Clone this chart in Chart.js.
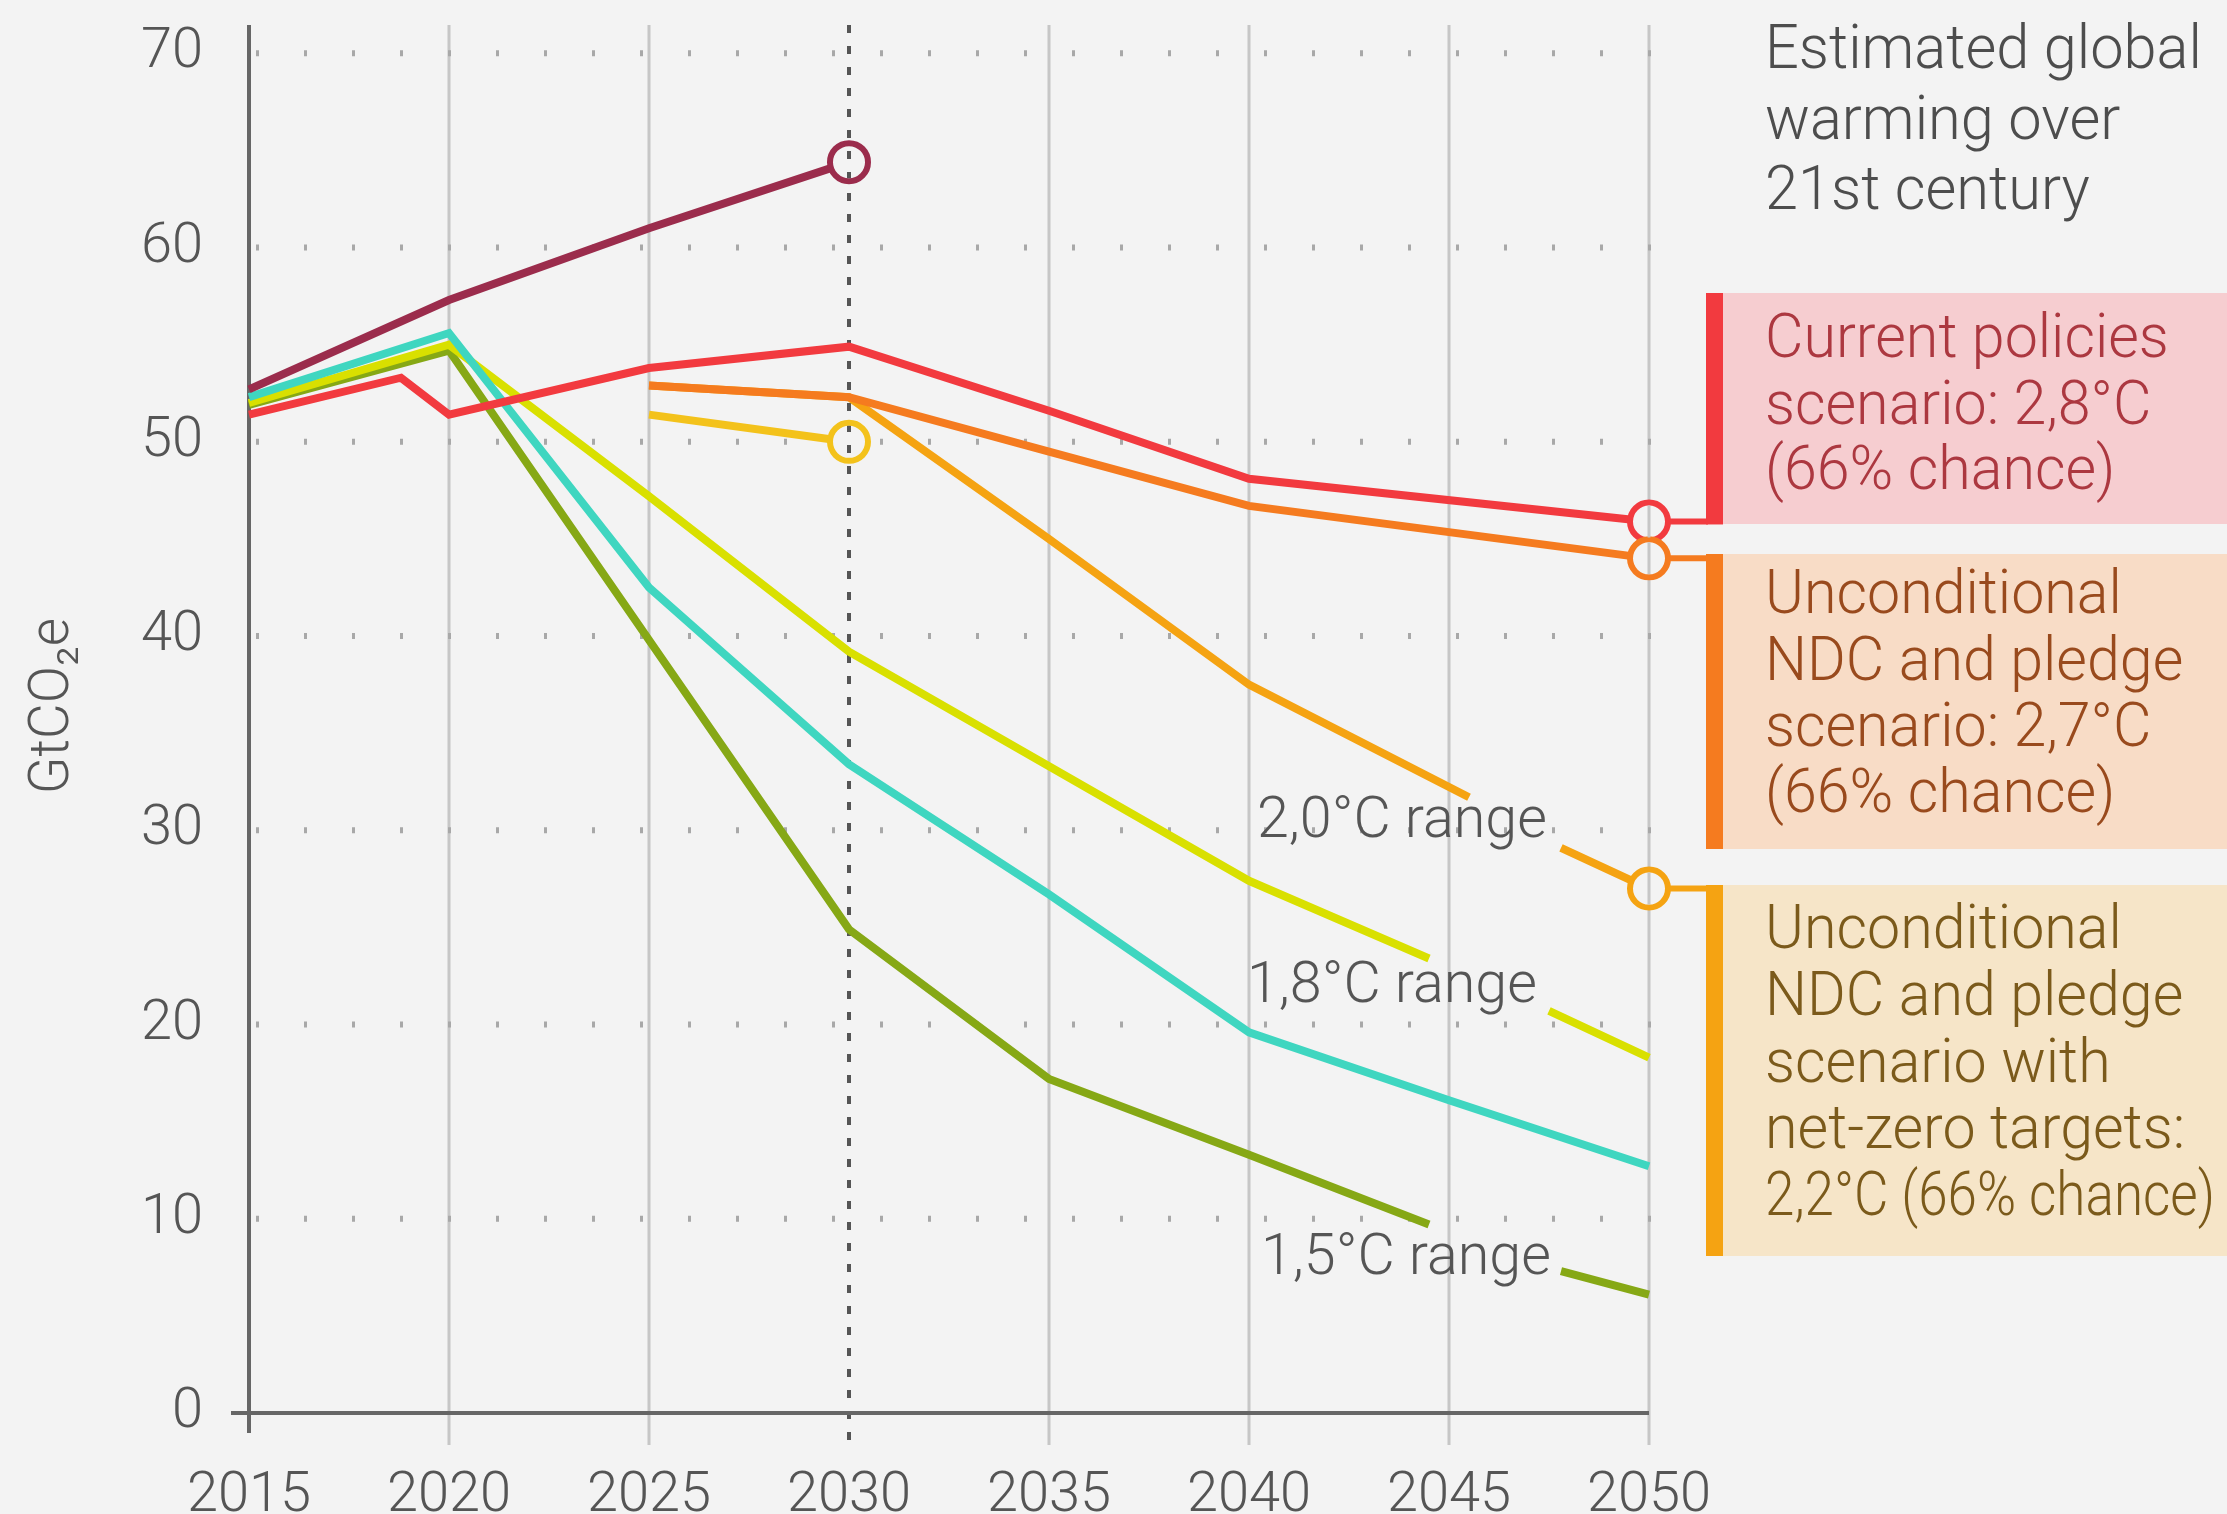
<!DOCTYPE html>
<html>
<head>
<meta charset="utf-8">
<script src="https://cdn.jsdelivr.net/npm/chart.js@4.4.1/dist/chart.umd.min.js"></script>
<style>
  html, body { margin: 0; padding: 0; background: #f3f3f3; }
  #wrap { width: 2227px; height: 1514px; }
</style>
</head>
<body>
<div id="wrap"><canvas id="emissionsChart" width="2227" height="1514"></canvas></div>
<script>
// values, GtCO2e
const maroonYears = [2015, 2020, 2025, 2030];
const maroonValues = [52.7, 57.3, 61.0, 64.4];

const redYears = [2015, 2018.8, 2020, 2025, 2030, 2035, 2040, 2050];
const redValues = [51.4, 53.3, 51.4, 53.8, 54.9, 51.6, 48.1, 45.9];

const ndcYears = [2025, 2030, 2035, 2040, 2050];
const ndcValues = [52.9, 52.3, 49.5, 46.7, 44.0];

const netZeroYears = [2025, 2030, 2035, 2040, 2045.5, 2046.6, 2047.8, 2050];
const netZeroValues = [52.9, 52.3, 45.0, 37.5, 31.7, null, 29.1, 27.0];

const conditionalYears = [2025, 2030];
const conditionalValues = [51.4, 50.0];

const limeYears = [2015, 2020, 2025, 2030, 2035, 2040, 2044.5, 2046, 2047.5, 2050];
const limeValues = [52.0, 55.0, 47.2, 39.2, 33.3, 27.4, 23.4, null, 20.7, 18.3];

const tealYears = [2015, 2020, 2025, 2030, 2035, 2040, 2045, 2050];
const tealValues = [52.3, 55.6, 42.5, 33.4, 26.7, 19.6, 16.1, 12.7];

const greenYears = [2015, 2020, 2025, 2030, 2035, 2040, 2044.5, 2046, 2047.8, 2050];
const greenValues = [51.9, 54.7, 39.8, 24.9, 17.2, 13.3, 9.7, null, 7.3, 6.1];

const xTicks = [2015, 2020, 2025, 2030, 2035, 2040, 2045, 2050];
const yTicks = [0, 10, 20, 30, 40, 50, 60, 70];

const rangeLabels = ['2,0°C range', '1,8°C range', '1,5°C range'];
const headerLines = ['Estimated global', 'warming over', '21st century'];
const currentPolicyLines = ['Current policies', 'scenario: 2,8°C', '(66% chance)'];
const ndcLines = ['Unconditional', 'NDC and pledge', 'scenario: 2,7°C', '(66% chance)'];
const netZeroLines = ['Unconditional', 'NDC and pledge', 'scenario with', 'net-zero targets:', '2,2°C (66% chance)'];

const FONT = 'Roboto, "Open Sans", "DejaVu Sans", sans-serif';
const BG = '#f3f3f3';
const CIRCLE_R = 19;

function toPoints(years, values) {
  return years.map((yr, i) => ({ x: yr, y: values[i] }));
}

function series(label, years, values, color, circleIndex, order) {
  return {
    label: label,
    data: toPoints(years, values),
    borderColor: color,
    borderWidth: 8,
    borderCapStyle: 'butt',
    spanGaps: false,
    tension: 0,
    clip: false,
    order: order,
    circleIndex: circleIndex,
    pointRadius: ctx => ctx.dataIndex === circleIndex ? CIRCLE_R : 0,
    pointHoverRadius: ctx => ctx.dataIndex === circleIndex ? CIRCLE_R : 0,
    pointBorderWidth: 6,
    pointBorderColor: color,
    pointBackgroundColor: BG
  };
}

function textLine(ctx, text, x, y, size, color, squeeze, maxWidth) {
  ctx.save();
  ctx.font = '300 ' + size + 'px ' + FONT;
  ctx.fillStyle = color;
  ctx.textBaseline = 'middle';
  ctx.textAlign = 'left';
  let s = squeeze;
  const w = ctx.measureText(text).width;
  if (maxWidth && w * s > maxWidth) s = maxWidth / w;
  ctx.translate(x, y);
  ctx.scale(s, 1);
  ctx.fillText(text, 0, 0);
  ctx.restore();
}

function drawColumn(ctx, chart, yr) {
  const a = chart.chartArea;
  const px = chart.scales.x.getPixelForValue(yr);
  ctx.save();
  ctx.beginPath();
  if (yr === 2030) {
    ctx.strokeStyle = '#555';
    ctx.lineWidth = 4;
    ctx.setLineDash([8, 13]);
    ctx.moveTo(px, a.top);
    ctx.lineTo(px, a.bottom + 28);
  } else {
    ctx.strokeStyle = '#c6c6c6';
    ctx.lineWidth = 3;
    ctx.moveTo(px, a.top);
    ctx.lineTo(px, a.bottom + 32);
  }
  ctx.stroke();
  ctx.restore();
}

const backdrop = {
  id: 'backdrop',
  beforeDatasetsDraw(chart) {
    const { ctx, chartArea: a, scales: { y } } = chart;
    xTicks.slice(1).forEach(yr => drawColumn(ctx, chart, yr));
    ctx.save();
    ctx.strokeStyle = '#a8a8a8';
    ctx.lineWidth = 6;
    ctx.setLineDash([3, 45]);
    yTicks.slice(1).forEach(v => {
      const py = y.getPixelForValue(v);
      ctx.beginPath();
      ctx.moveTo(a.left + 7, py);
      ctx.lineTo(a.right + 3, py);
      ctx.stroke();
    });
    ctx.setLineDash([]);
    ctx.strokeStyle = '#666';
    ctx.lineWidth = 4;
    ctx.beginPath();
    ctx.moveTo(a.left, a.top);
    ctx.lineTo(a.left, a.bottom + 20);
    ctx.stroke();
    ctx.beginPath();
    ctx.moveTo(a.left - 18, a.bottom);
    ctx.lineTo(a.right, a.bottom);
    ctx.stroke();
    ctx.restore();
  },
  afterDatasetsDraw(chart) {
    const ctx = chart.ctx;
    // grid line visible through the hollow circles
    chart.data.datasets.forEach((ds, di) => {
      if (ds.circleIndex == null) return;
      const pt = chart.getDatasetMeta(di).data[ds.circleIndex];
      ctx.save();
      ctx.beginPath();
      ctx.arc(pt.x, pt.y, CIRCLE_R - 3, 0, Math.PI * 2);
      ctx.clip();
      drawColumn(ctx, chart, ds.data[ds.circleIndex].x);
      ctx.restore();
    });
  },
  afterDraw(chart) {
    const { ctx, scales: { x, y } } = chart;
    // y axis title
    ctx.save();
    ctx.translate(54, 706);
    ctx.rotate(-Math.PI / 2);
    ctx.font = '300 55px ' + FONT;
    ctx.fillStyle = '#555';
    ctx.textAlign = 'center';
    ctx.textBaseline = 'middle';
    ctx.fillText('GtCO₂e', 0, 0);
    ctx.restore();

    // range labels sitting in the gaps of the lines
    const rangeAt = [[2040.2, 30.4], [2039.95, 21.9], [2040.3, 7.9]];
    rangeLabels.forEach((t, i) => {
      textLine(ctx, t, x.getPixelForValue(rangeAt[i][0]), y.getPixelForValue(rangeAt[i][1]), 58, '#555', 0.99);
    });

    // header
    headerLines.forEach((t, i) => textLine(ctx, t, 1765, [52, 123, 193][i], 62, '#4d4d4d', 0.96, 450));

    // scenario boxes with connectors from the 2050 circles
    const boxes = [
      { ds: 1, top: 293, bottom: 524, fill: '#f6cdd0', bar: '#f23a3f', text: '#ac3840', lines: currentPolicyLines, ys: [342, 409, 474] },
      { ds: 2, top: 554, bottom: 849, fill: '#f8dcc6', bar: '#f57b1f', text: '#994a1d', lines: ndcLines, ys: [598, 665, 731, 797] },
      { ds: 3, top: 885, bottom: 1256, fill: '#f6e5c8', bar: '#f5a312', text: '#7b5a1b', lines: netZeroLines, ys: [933, 1000, 1067, 1133, 1200] }
    ];
    boxes.forEach(b => {
      const ds = chart.data.datasets[b.ds];
      const pt = chart.getDatasetMeta(b.ds).data[ds.circleIndex];
      ctx.save();
      ctx.fillStyle = b.fill;
      ctx.fillRect(1723, b.top, 2227 - 1723, b.bottom - b.top);
      ctx.fillStyle = b.bar;
      const t = Math.min(b.top, pt.y - 3), bt = Math.max(b.bottom, pt.y + 3);
      ctx.fillRect(1706, t, 17, bt - t);
      ctx.strokeStyle = b.bar;
      ctx.lineWidth = 6;
      ctx.beginPath();
      ctx.moveTo(pt.x + CIRCLE_R + 2, pt.y);
      ctx.lineTo(1708, pt.y);
      ctx.stroke();
      ctx.restore();
      b.lines.forEach((line, i) => textLine(ctx, line, 1765, b.ys[i], 61, b.text, 0.97, 450));
    });
  }
};

const ctx = document.getElementById('emissionsChart').getContext('2d');

new Chart(ctx, {
  type: 'line',
  data: {
    datasets: [
      series('Conditional NDC 2030', conditionalYears, conditionalValues, '#f3c21b', 1, 1),
      series('Current policies', redYears, redValues, '#f23a3f', 7, 3),
      series('Unconditional NDC', ndcYears, ndcValues, '#f57b1f', 4, 2),
      series('NDC with net-zero targets', netZeroYears, netZeroValues, '#f5a312', 7, 4),
      series('Trend', maroonYears, maroonValues, '#9b2c4c', 3, 5),
      series('Lime pathway', limeYears, limeValues, '#d9e000', null, 7),
      series('Teal pathway', tealYears, tealValues, '#3fd6c0', null, 6),
      series('Green pathway', greenYears, greenValues, '#86a815', null, 8)
    ]
  },
  options: {
    responsive: false,
    animation: false,
    events: [],
    layout: { padding: { left: 0, right: 578, top: 25, bottom: 0 } },
    plugins: {
      legend: { display: false },
      tooltip: { enabled: false }
    },
    scales: {
      x: {
        type: 'linear',
        min: 2015,
        max: 2050,
        grid: { display: false },
        border: { display: false },
        afterBuildTicks: scale => { scale.ticks = xTicks.map(v => ({ value: v })); },
        afterFit: scale => { scale.height = 101; scale.paddingLeft = 0; scale.paddingRight = 0; },
        ticks: {
          padding: 42,
          color: '#555',
          font: { family: FONT, size: 56, weight: 300 },
          callback: v => String(v),
          maxRotation: 0,
          autoSkip: false
        }
      },
      y: {
        min: 0,
        max: 71.46,
        grid: { display: false },
        border: { display: false },
        afterBuildTicks: scale => { scale.ticks = yTicks.map(v => ({ value: v })); },
        afterFit: scale => { scale.width = 249; scale.paddingTop = 0; scale.paddingBottom = 0; },
        ticks: {
          padding: 38,
          color: '#555',
          font: { family: FONT, size: 56, weight: 300 },
          callback: v => String(v)
        }
      }
    }
  },
  plugins: [backdrop]
});
</script>
</body>
</html>
